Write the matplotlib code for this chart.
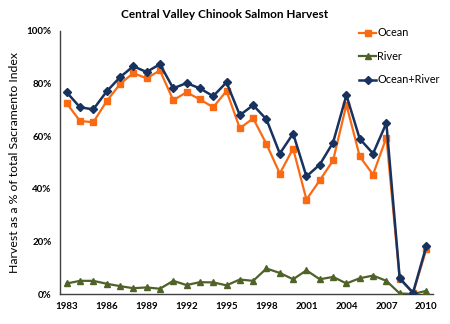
import matplotlib
matplotlib.use("Agg")
import matplotlib.pyplot as plt
from matplotlib.ticker import FuncFormatter, MultipleLocator

years = list(range(1983, 2011))
ocean = [72.5, 65.8, 65.3, 73.3, 79.8, 84.0, 82.0, 85.0, 73.7, 76.7, 74.0, 71.0,
         77.2, 63.0, 66.8, 57.0, 45.8, 55.3, 35.9, 43.2, 50.8, 72.0, 52.3, 45.4,
         59.5, 5.8, 0.3, 17.0]
river = [4.0, 5.0, 5.0, 3.9, 3.0, 2.2, 2.5, 2.0, 5.0, 3.4, 4.5, 4.4,
         3.3, 5.5, 5.0, 9.7, 8.0, 5.6, 9.0, 5.6, 6.5, 4.0, 6.0, 7.0,
         5.0, 0.2, 0.0, 1.2]
combined = [76.7, 71.0, 70.2, 77.0, 82.4, 86.6, 84.4, 87.4, 78.2, 80.2, 78.2, 75.2,
            80.5, 68.0, 71.8, 66.4, 53.4, 61.0, 44.7, 49.2, 57.6, 75.6, 59.0, 53.4,
            65.0, 6.0, 0.5, 18.2]
year_ticks = [1983, 1986, 1989, 1992, 1995, 1998, 2001, 2004, 2007, 2010]

plt.rcParams['font.family'] = ['Lato', 'DejaVu Sans']

fig = plt.figure(figsize=(4.5, 3.24), dpi=100)
ax = fig.add_axes([60 / 450, 1 - 294 / 324, 373 / 450, 263 / 324])

ax.plot(years, ocean, color="#FA6A12", lw=1.6, marker="s", ms=4.8,
        label="Ocean", zorder=3)
ax.plot(years, river, color="#4F6228", lw=1.6, marker="^", ms=4.4,
        label="River", zorder=4)
ax.plot(years, combined, color="#17325F", lw=1.8, marker="D", ms=4.0,
        label="Ocean+River", zorder=5)

ax.set_xlim(1982.5, 2010.5)
ax.set_ylim(0, 100)
ax.yaxis.set_major_locator(MultipleLocator(20))
ax.yaxis.set_major_formatter(FuncFormatter(lambda v, p: f"{v:.0f}%"))
ax.set_xticks(year_ticks)
ax.tick_params(axis="both", length=0, labelsize=7, pad=6)
for lab in ax.get_xticklabels() + ax.get_yticklabels():
    lab.set_fontweight("bold")

for side in ("top", "right"):
    ax.spines[side].set_visible(False)
for side in ("left", "bottom"):
    ax.spines[side].set_color("#404040")
    ax.spines[side].set_linewidth(1.0)

ax.set_ylabel("Harvest as a % of total Sacramento Index", fontsize=8.8)
ax.yaxis.set_label_coords(-40 / 373, 0.5)
fig.text(0.5, 1 - 15 / 324, "Central Valley Chinook Salmon Harvest",
         ha="center", va="center", fontsize=8.5, fontweight="bold")

ax.legend(loc="upper right", bbox_to_anchor=(1.03, 1.03), frameon=False,
          fontsize=7.8, handlelength=1.5, handletextpad=0.15,
          labelspacing=1.15, borderaxespad=0.0)

fig.savefig("out.png", dpi=100, facecolor="white")
